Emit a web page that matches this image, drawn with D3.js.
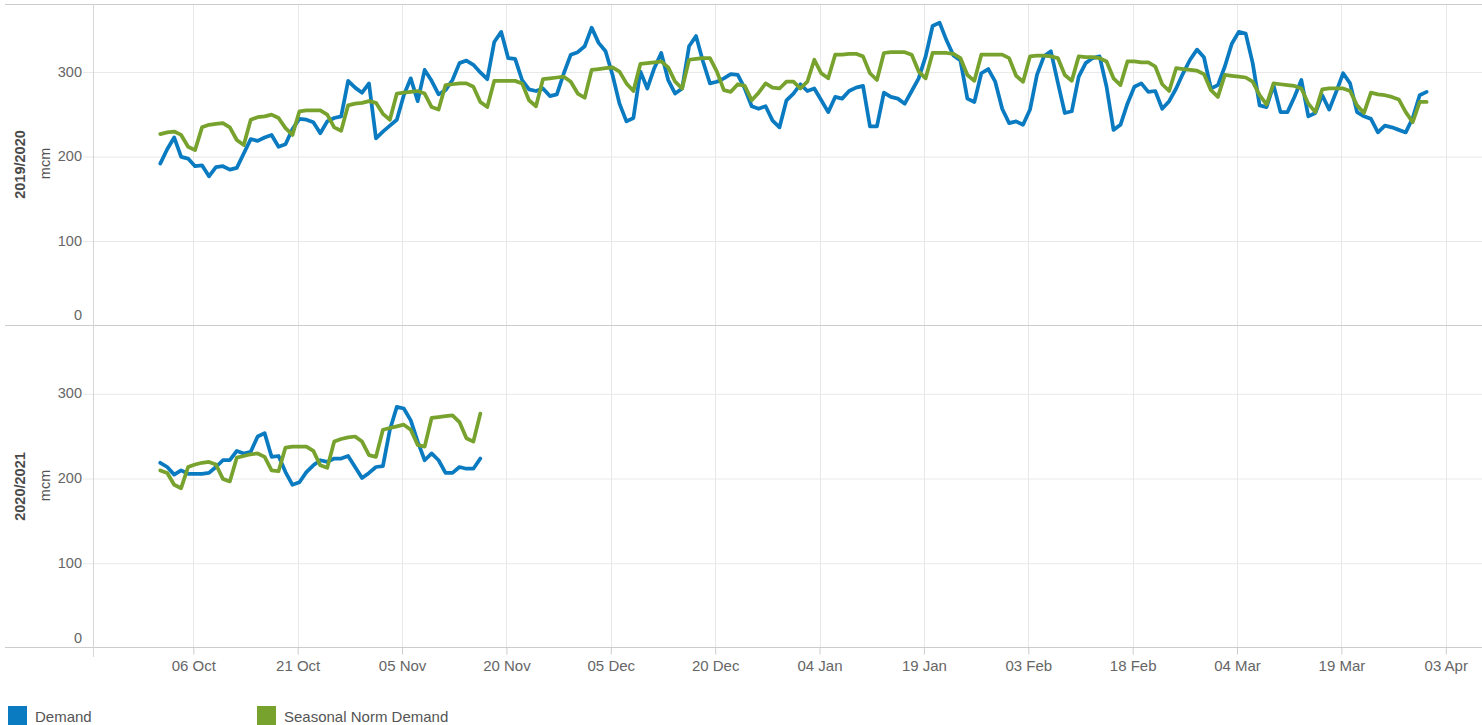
<!DOCTYPE html>
<html>
<head>
<meta charset="utf-8">
<script src="https://cdn.jsdelivr.net/npm/d3@7"></script>
<style>
  body { margin: 0; background: #fff; }
  svg { display: block; font-family: "Liberation Sans", Arial, sans-serif; }
</style>
</head>
<body>
<svg id="chart" width="1482" height="725"></svg>
<script>
// gas day starts 06:00, day 0 = 1 Oct
var seasonStart = Date.UTC(2019, 9, 1, 6);

var seasons = ["2019/2020", "2020/2021"];
var seriesNames = ["Demand", "Seasonal Norm Demand"];

var demand1920 = [
  191, 208, 222, 199, 197, 188, 189, 176, 187, 188,
  184, 186, 203, 220, 218, 222, 225, 211, 214, 232,
  244, 243, 240, 227, 241, 245, 247, 289, 281, 275,
  286, 221, 229, 236, 243, 272, 292, 265, 302, 289,
  273, 278, 290, 310, 313, 308, 299, 291, 335, 347,
  316, 315, 290, 279, 277, 280, 271, 273, 298, 320,
  323, 330, 352, 334, 324, 296, 262, 241, 245, 300,
  280, 304, 322, 290, 274, 280, 330, 342, 312, 286,
  288, 292, 297, 296, 280, 259, 256, 259, 242, 234,
  266, 274, 285, 277, 280, 266, 252, 270, 268, 277,
  281, 283, 235, 235, 275, 270, 268, 262, 277, 292,
  318, 354, 358, 337, 319, 313, 268, 264, 298, 303,
  288, 256, 239, 241, 237, 255, 296, 318, 324, 287,
  251, 253, 294, 310, 316, 318, 282, 231, 237, 262,
  282, 286, 276, 277, 256, 265, 280, 298, 314, 326,
  317, 280, 284, 306, 333, 347, 345, 310, 260, 258,
  284, 252, 252, 270, 290, 247, 251, 272, 255, 276,
  298, 286, 252, 247, 244, 228, 236, 234, 231, 228,
  245, 272, 276
];

var norm1920 = [
  226, 228, 229, 225, 211, 207,
  234, 237, 238, 239, 234, 219, 213,
  243, 246, 247, 249, 245, 233, 225,
  253, 254, 254, 254, 249, 234, 230,
  260, 262, 263, 265, 263, 250, 243,
  274, 275, 276, 277, 274, 258, 255,
  284, 285, 286, 286, 282, 264, 258,
  289, 289, 289, 289, 286, 266, 259,
  291, 292, 293, 294, 288, 274, 269,
  302, 303, 304, 305, 300, 286, 277,
  309, 310, 311, 312, 305, 288, 280,
  314, 315, 316, 316, 300, 278, 276,
  285, 283, 266, 275, 286, 281, 280,
  288, 288, 280, 288, 314, 298, 292,
  320, 320, 321, 321, 318, 298, 290,
  322, 323, 323, 323, 320, 300, 292,
  322, 322, 322, 321, 316, 296, 289,
  320, 320, 320, 320, 316, 295, 288,
  318, 319, 319, 318, 316, 296, 289,
  318, 317, 317, 316, 312, 292, 284,
  312, 312, 311, 311, 306, 285, 277,
  304, 303, 302, 301, 297, 278, 270,
  296, 295, 294, 293, 288, 272, 261,
  286, 285, 284, 283, 280, 262, 252,
  279, 280, 280, 280, 277, 260, 251,
  275, 273, 272, 270, 267, 252, 240,
  264, 264
];

var demand2021 = [
  218, 213, 204, 209, 205, 205, 205, 206, 213, 221,
  221, 232, 229, 231, 249, 253, 225, 226, 207, 192,
  195, 207, 215, 221, 219, 223, 223, 226, 213, 200,
  206, 213, 214, 257, 284, 282, 268, 243, 221, 229,
  221, 206, 206, 213, 211, 211, 223
];

var norm2021 = [
  209, 206, 192, 188, 213, 216, 218, 219, 216, 199,
  196, 224, 226, 228, 229, 225, 209, 208, 236, 237,
  237, 237, 232, 215, 212, 243, 246, 248, 249, 243,
  227, 225, 257, 259, 261, 263, 257, 239, 237, 271,
  272, 273, 274, 266, 247, 243, 276
];

var yTicks = [0, 100, 200, 300];
var xTickLabels = ["2019-10-06", "2019-10-21", "2019-11-05", "2019-11-20", "2019-12-05",
  "2019-12-20", "2020-01-04", "2020-01-19", "2020-02-03", "2020-02-18",
  "2020-03-04", "2020-03-19", "2020-04-03"];

var colors = ["#0b7bc1", "#77a22d"];

var svg = d3.select("#chart");
var left = 93, right = 1482;
var panes = [
  { top: 4, bottom: 325, data: [demand1920, norm1920] },
  { top: 325.5, bottom: 647.5, data: [demand2021, norm2021] }
];

var x = d3.scaleUtc()
  .domain([Date.UTC(2019, 8, 21, 14), Date.UTC(2020, 3, 8, 5)])
  .range([left, right]);

var dayDate = i => new Date(seasonStart + i * 864e5);
var tickDates = xTickLabels.map(d3.utcParse("%Y-%m-%d"));

// vertical grid
svg.append("g")
  .selectAll("line")
  .data(tickDates)
  .enter()
  .append("line")
  .attr("x1", d => Math.round(x(d)) + 0.5)
  .attr("x2", d => Math.round(x(d)) + 0.5)
  .attr("y1", 4)
  .attr("y2", 647.5)
  .attr("stroke", "#e8e8e8");

panes.forEach(function (p, pi) {
  var y = d3.scaleLinear().domain([0, 380]).range([p.bottom, p.top]);

  var ax = svg.append("g")
    .attr("transform", "translate(83,0)")
    .call(d3.axisLeft(y).tickValues(yTicks).tickSize(-(right - 83)).tickPadding(1));
  ax.select(".domain").remove();
  ax.selectAll(".tick line")
    .attr("stroke", "#e8e8e8")
    .attr("transform", "translate(0,0.5)")
    .style("display", d => d === 0 ? "none" : null);
  ax.selectAll(".tick text")
    .attr("fill", "#666")
    .style("font-size", "14.5px")
    .attr("y", d => d === 0 ? -10 : 0);

  svg.append("text")
    .attr("transform", "translate(25," + ((p.top + p.bottom) / 2) + ") rotate(-90)")
    .attr("text-anchor", "middle")
    .attr("fill", "#4a4a4a")
    .style("font-size", "14.5px")
    .style("font-weight", "bold")
    .text(seasons[pi]);

  svg.append("text")
    .attr("transform", "translate(50," + ((p.top + p.bottom) / 2 - 1) + ") rotate(-90)")
    .attr("text-anchor", "middle")
    .attr("fill", "#555")
    .style("font-size", "14.5px")
    .text("mcm");

  var line = d3.line()
    .x((d, i) => x(dayDate(i)))
    .y(d => y(d));

  p.data.forEach(function (vals, si) {
    svg.append("path")
      .datum(vals)
      .attr("d", line)
      .attr("fill", "none")
      .attr("stroke", colors[si])
      .attr("stroke-width", 3.75)
      .attr("stroke-linejoin", "round")
      .attr("stroke-linecap", "round");
  });
});

// frame lines
[4.5, 325.5, 647.5].forEach(function (yy) {
  svg.append("line")
    .attr("x1", 5).attr("x2", right)
    .attr("y1", yy).attr("y2", yy)
    .attr("stroke", "#ccc");
});
svg.append("line")
  .attr("x1", left + 0.5).attr("x2", left + 0.5)
  .attr("y1", 4).attr("y2", 657)
  .attr("stroke", "#d6d6d6");

// x axis
var xa = svg.append("g")
  .attr("transform", "translate(0,647.5)")
  .call(d3.axisBottom(x).tickValues(tickDates).tickFormat(d3.utcFormat("%d %b")).tickSize(7).tickPadding(6));
xa.select(".domain").remove();
xa.selectAll(".tick line").attr("stroke", "#ccc");
xa.selectAll(".tick text").attr("fill", "#666").style("font-size", "15px");

// legend
var lg = svg.append("g");
var legendX = [8, 257];
seriesNames.forEach(function (name, i) {
  lg.append("rect")
    .attr("x", legendX[i]).attr("y", 706)
    .attr("width", 19).attr("height", 19)
    .attr("fill", colors[i]);
  lg.append("text")
    .attr("x", legendX[i] + 27).attr("y", 721.5)
    .attr("fill", "#555")
    .style("font-size", "15px")
    .text(name);
});
</script>
</body>
</html>
